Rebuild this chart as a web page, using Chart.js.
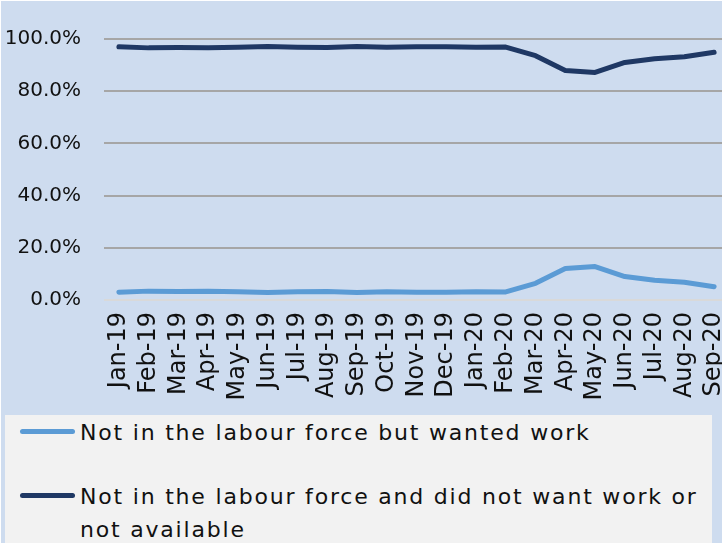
<!DOCTYPE html>
<html>
<head>
<meta charset="utf-8">
<script src="https://cdn.jsdelivr.net/npm/chart.js@4/dist/chart.umd.min.js"></script>
<style>
  html, body { margin:0; padding:0; background:#ffffff; overflow:hidden; }
  #bg { position:absolute; left:1px; top:1px; width:721px; height:542px; background:#cedcef; }
  #chart { position:absolute; left:0; top:0; }
  #legend { position:absolute; left:5px; top:415px; width:707px; height:128px; background:#f2f2f2;
            font-family:"Century Gothic","DejaVu Sans",sans-serif; font-size:22px; letter-spacing:1.8px; color:#111; }
  .lg-item { display:flex; align-items:flex-start; line-height:33px; }
  .lg-swatch { width:55px; height:5px; border-radius:3px; margin:13px 5px 0 15px; flex:none; }
  .lg-text { width:630px; }
</style>
</head>
<body>
<div id="bg"></div>
<canvas id="chart" width="730" height="415"></canvas>
<div id="legend"></div>
<script>
(function(){
  'use strict';

  const months = ['Jan-19','Feb-19','Mar-19','Apr-19','May-19','Jun-19','Jul-19','Aug-19','Sep-19','Oct-19',
    'Nov-19','Dec-19','Jan-20','Feb-20','Mar-20','Apr-20','May-20','Jun-20','Jul-20','Aug-20','Sep-20'];

  const wantedWork = [3.0, 3.4, 3.3, 3.4, 3.2, 2.9, 3.2, 3.3, 2.9, 3.2, 3.0, 3.0, 3.2, 3.1, 6.4, 12.1, 12.8, 9.0, 7.6, 6.8, 5.1];
  const notWanted  = [97.0, 96.6, 96.7, 96.6, 96.8, 97.1, 96.8, 96.7, 97.1, 96.8, 97.0, 97.0, 96.8, 96.9, 93.6, 87.9, 87.2, 91.0, 92.4, 93.2, 94.9];

  const seriesNames = ['Not in the labour force but wanted work',
    'Not in the labour force and did not want work or not available'];
  const seriesColors = ['#5b9bd5', '#1f3864'];

  const yTicks = [0, 20, 40, 60, 80, 100];

  const fontFamily = '"Century Gothic","DejaVu Sans",sans-serif';

  function el(id){ return document.getElementById(id); }

  const datasets = [wantedWork, notWanted].map((data, i) => ({
    label: seriesNames[i],
    data,
    borderColor: seriesColors[i],
    backgroundColor: seriesColors[i],
    borderWidth: 5,
    borderCapStyle: 'round',
    borderJoinStyle: 'round',
    pointRadius: 0,
    tension: 0,
    fill: false
  }));

  const chart = new Chart(el('chart').getContext('2d'), {
    type: 'line',
    data: { labels: months, datasets },
    options: {
      responsive: false,
      animation: false,
      layout: { padding: { top: 39, right: 1, left: 0, bottom: 0 } },
      plugins: { legend: { display: false }, tooltip: { enabled: false } },
      scales: {
        x: {
          offset: true,
          grid: { display: false, drawTicks: false },
          border: { display: false },
          ticks: {
            autoSkip: false, maxRotation: 90, minRotation: 90, padding: 12,
            color: '#111', font: { family: fontFamily, size: 24 }
          },
          // plot runs off the right edge like the original, so no label padding
          afterFit(scale){ scale.height = 115; scale.paddingLeft = 0; scale.paddingRight = 0; }
        },
        y: {
          min: 0, max: 100,
          afterBuildTicks(scale){ scale.ticks = yTicks.map(v => ({ value: v })); },
          grid: {
            drawTicks: false, lineWidth: 2,
            color: ctx => ctx.tick && ctx.tick.value === 0 ? '#d9d9d9' : '#a6a6a6'
          },
          border: { display: false },
          ticks: {
            padding: 23, color: '#111', font: { family: fontFamily, size: 20 },
            callback: v => v.toFixed(1) + '%'
          },
          afterFit(scale){ scale.width = 104; scale.paddingTop = 0; scale.paddingBottom = 0; }
        }
      }
    }
  });

  // html legend, built from the chart's datasets
  const legend = el('legend');
  chart.data.datasets.forEach((ds, i) => {
    const item = document.createElement('div');
    item.className = 'lg-item';
    item.style.marginTop = i === 0 ? '1px' : '31px';
    const sw = document.createElement('div');
    sw.className = 'lg-swatch';
    sw.style.background = ds.borderColor;
    const txt = document.createElement('div');
    txt.className = 'lg-text';
    txt.textContent = ds.label;
    item.appendChild(sw); item.appendChild(txt);
    legend.appendChild(item);
  });
})();
</script>
</body>
</html>
